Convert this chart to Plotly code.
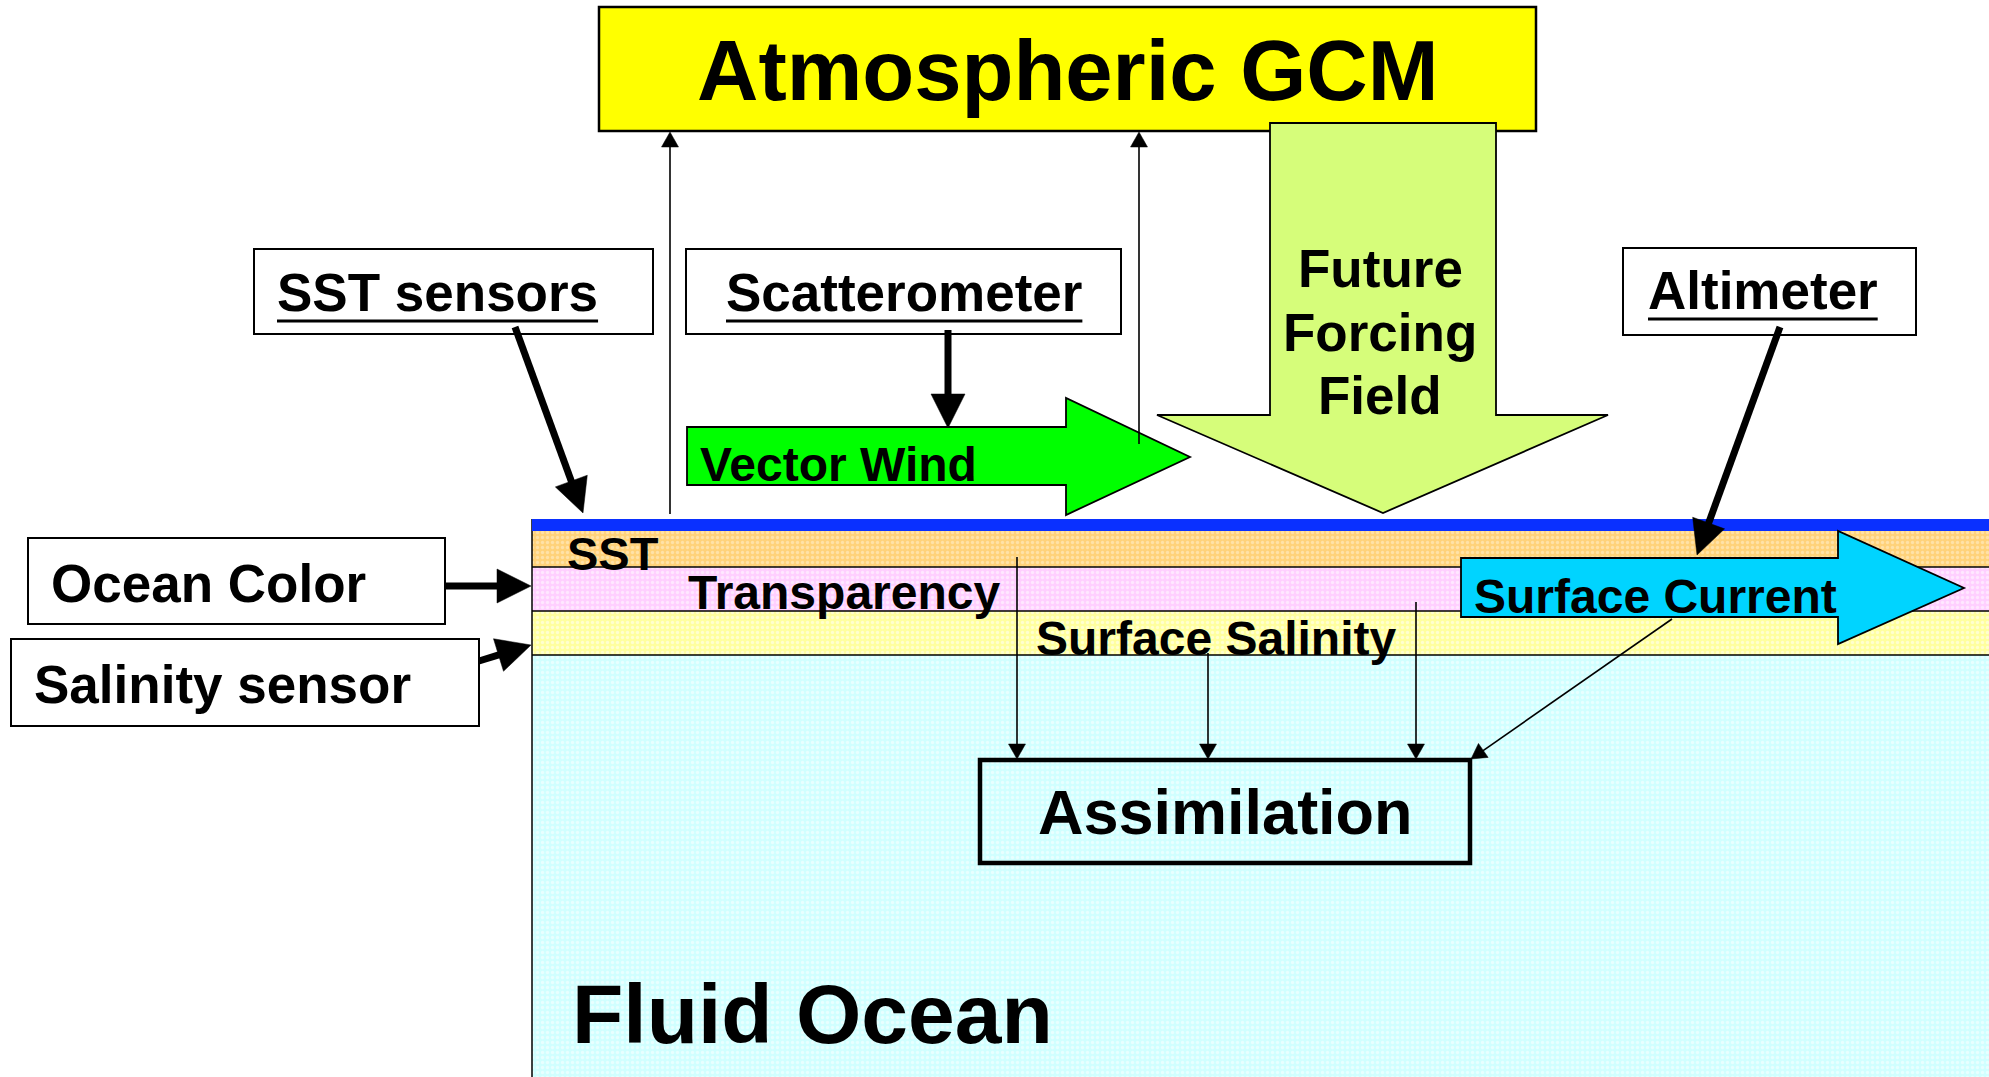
import plotly.graph_objects as go

W, H = 1989, 1077
FONT = "Liberation Sans, Arial, sans-serif"

# ---------------- text content ----------------
title_text = "Atmospheric GCM"
sensor_labels = ["SST sensors", "Scatterometer", "Altimeter", "Ocean Color", "Salinity sensor"]
sensor_underlined = [True, True, True, False, False]
layer_names = ["SST", "Transparency", "Surface Salinity", "Fluid Ocean"]
flow_labels = ["Vector Wind", "Surface Current"]
forcing_lines = ["Future", "Forcing", "Field"]
assim_text = "Assimilation"

# ---------------- geometry (pixel space) ----------------
# sensor boxes: x0, x1, y0, y1 ; text left, text cap-middle y
sensor_boxes = [(254, 653, 249, 334), (686, 1121, 249, 334), (1623, 1916, 248, 335),
                (28, 445, 538, 624), (11, 479, 639, 726)]
sensor_text_pos = [(277, 292), (726, 292), (1648, 290), (51, 583), (34, 684)]
sensor_font = 53

gcm_box = (599, 1536, 7, 131)
assim_box = (980, 1470, 760, 863)

ocean_x = (532, W)
blue_band = (519, 531)
layer_bounds = [531, 567, 611, 655, H]
layer_colors = ["#FFD27A", "#FFCFFF", "#FFFF9E", "#D0FFFF"]
layer_dots = ["#FFF2D6", "#FFFFFF", "#FFFFFF", "#FFFFFF"]
layer_text_pos = [(567, 553, 47), (688, 592, 48), (1036, 638, 48), (572, 1014, 84)]

# block arrows (polygon vertices)
vector_wind_poly = [(687, 427), (1066, 427), (1066, 398), (1190, 457), (1066, 515), (1066, 485), (687, 485)]
surface_current_poly = [(1461, 558), (1838, 558), (1838, 531), (1964, 588), (1838, 644), (1838, 617), (1461, 617)]
forcing_poly = [(1270, 123), (1496, 123), (1496, 415), (1608, 415), (1383, 513), (1157, 415), (1270, 415)]
flow_text_pos = [(700, 464), (1474, 596)]
forcing_text_pos = [(1380, 268), (1380, 332), (1380, 395)]

# thick black arrows: start -> tip
thick_arrows = [((515, 327), (583, 513)), ((948, 330), (948, 428)), ((1780, 327), (1697, 555)),
                ((445, 586), (531, 586)), ((479, 661), (531, 645))]
# thin arrows: start -> tip
thin_arrows = [((670, 514), (670, 132)), ((1139, 444), (1139, 132)),
               ((1017, 557), (1017, 759)), ((1208, 653), (1208, 759)),
               ((1416, 602), (1416, 759)), ((1672, 619), (1471, 759))]

# Arial-bold advance widths (per 1000 em) used for underline lengths
ADV = {' ': 278, 'A': 722, 'C': 722, 'S': 667, 'T': 611, 'a': 556, 'c': 556, 'e': 556, 'i': 278,
       'l': 278, 'm': 889, 'n': 611, 'o': 611, 'r': 389, 's': 556, 't': 333}


def text_width(s, size):
    return sum(ADV.get(ch, 600) for ch in s) * size / 1000.0


def poly_path(pts):
    return "M " + " L ".join(f"{x},{y}" for x, y in pts) + " Z"


def arrow_shapes(p0, p1, lw, head_len, head_w, color="black"):
    (x0, y0), (x1, y1) = p0, p1
    dx, dy = x1 - x0, y1 - y0
    L = (dx * dx + dy * dy) ** 0.5
    ux, uy = dx / L, dy / L
    px, py = -uy, ux
    bx, by = x1 - ux * head_len, y1 - uy * head_len
    tri = [(x1, y1), (bx + px * head_w / 2, by + py * head_w / 2), (bx - px * head_w / 2, by - py * head_w / 2)]
    return [
        dict(type="line", x0=x0, y0=y0, x1=bx + ux * 2, y1=by + uy * 2, line=dict(color=color, width=lw)),
        dict(type="path", path=poly_path(tri), fillcolor=color, line=dict(color=color, width=0.5)),
    ]


fig = go.Figure()

# ocean layers (textured fills)
x0o, x1o = ocean_x
for i, col in enumerate(layer_colors):
    ya, yb = layer_bounds[i], layer_bounds[i + 1]
    fig.add_trace(go.Scatter(
        x=[x0o, x1o, x1o, x0o, x0o], y=[ya, ya, yb, yb, ya], mode="lines",
        fill="toself", fillcolor=col, line=dict(width=0), hoverinfo="skip", showlegend=False,
        fillpattern=dict(shape=".", bgcolor=col, fgcolor=layer_dots[i], size=5, solidity=0.35),
    ))

shapes = []
# layer separator lines
for yb in layer_bounds[1:-1]:
    shapes.append(dict(type="line", x0=x0o, x1=x1o, y0=yb, y1=yb, line=dict(color="black", width=1.5)))
# left border of ocean
shapes.append(dict(type="line", x0=x0o, x1=x0o, y0=blue_band[0], y1=H, line=dict(color="black", width=1.5)))
# blue surface band
shapes.append(dict(type="rect", x0=x0o, x1=x1o, y0=blue_band[0], y1=blue_band[1],
                   fillcolor="#0A30FF", line=dict(width=0)))

# GCM box
gx0, gx1, gy0, gy1 = gcm_box
shapes.append(dict(type="rect", x0=gx0, x1=gx1, y0=gy0, y1=gy1, fillcolor="#FFFF00",
                   line=dict(color="black", width=2.5)))

# sensor boxes
for (bx0, bx1, by0, by1) in sensor_boxes:
    shapes.append(dict(type="rect", x0=bx0, x1=bx1, y0=by0, y1=by1, fillcolor="white",
                       line=dict(color="black", width=2)))

# block arrows
shapes.append(dict(type="path", path=poly_path(forcing_poly), fillcolor="#D6FD7A", line=dict(color="black", width=1.8)))
shapes.append(dict(type="path", path=poly_path(vector_wind_poly), fillcolor="#00FF00", line=dict(color="black", width=1.8)))
shapes.append(dict(type="path", path=poly_path(surface_current_poly), fillcolor="#00D4FF", line=dict(color="black", width=1.8)))

# assimilation box
ax0, ax1, ay0, ay1 = assim_box
shapes.append(dict(type="rect", x0=ax0, x1=ax1, y0=ay0, y1=ay1, fillcolor="rgba(0,0,0,0)",
                   line=dict(color="black", width=4.5)))

# arrows
for p0, p1 in thick_arrows:
    shapes += arrow_shapes(p0, p1, lw=7, head_len=34, head_w=34)
for p0, p1 in thin_arrows:
    shapes += arrow_shapes(p0, p1, lw=1.6, head_len=15, head_w=17)

# underlines for the sensor labels
for lab, ul, (tx, ty) in zip(sensor_labels, sensor_underlined, sensor_text_pos):
    if ul:
        wdt = text_width(lab, sensor_font)
        shapes.append(dict(type="line", x0=tx, x1=tx + wdt, y0=ty + 29, y1=ty + 29,
                           line=dict(color="black", width=3)))

annotations = []


def add_text(txt, x, y, size, xanchor="left"):
    annotations.append(dict(text=txt, x=x, y=y, xref="x", yref="y", showarrow=False,
                            xanchor=xanchor, yanchor="middle", borderpad=0, borderwidth=0,
                            font=dict(family=FONT, size=size, color="black", weight="bold")))


add_text(title_text, (gx0 + gx1) / 2, 70, 85, xanchor="center")
for lab, (tx, ty) in zip(sensor_labels, sensor_text_pos):
    add_text(lab, tx, ty, sensor_font)
for name, (tx, ty, sz) in zip(layer_names, layer_text_pos):
    add_text(name, tx, ty, sz)
for lab, (tx, ty) in zip(flow_labels, flow_text_pos):
    add_text(lab, tx, ty, 48)
for ln, (tx, ty) in zip(forcing_lines, forcing_text_pos):
    add_text(ln, tx, ty, 53, xanchor="center")
add_text(assim_text, (ax0 + ax1) / 2, 812, 63, xanchor="center")

fig.update_layout(
    width=W, height=H, margin=dict(l=0, r=0, t=0, b=0),
    paper_bgcolor="white", plot_bgcolor="white",
    xaxis=dict(range=[0, W], visible=False, fixedrange=True),
    yaxis=dict(range=[H, 0], visible=False, fixedrange=True),
    shapes=shapes, annotations=annotations, showlegend=False,
)

fig.write_html("out.html", config={"displayModeBar": False},
               post_script="document.body.style.margin='0';document.body.style.overflow='hidden';")
